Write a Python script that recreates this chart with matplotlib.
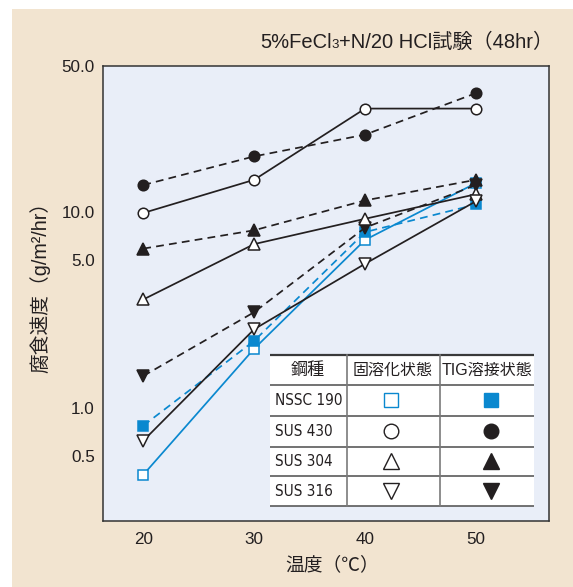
import numpy as np
import matplotlib
matplotlib.use("Agg")
import matplotlib.pyplot as plt
from matplotlib import font_manager as fm
from matplotlib.offsetbox import TextArea, HPacker, AnnotationBbox
from matplotlib.patches import Rectangle
from matplotlib.ticker import FixedLocator, FixedFormatter, NullLocator

# ---- data: corrosion rate (g/m2/hr) vs. temperature (deg C) ----
temps = [20, 30, 40, 50]

nssc190_sol = [0.38, 1.9, 6.7, 13.8]
nssc190_tig = [0.77, 2.07, 7.5, 10.9]
sus430_sol = [9.9, 14.3, 31.3, 31.3]
sus430_tig = [13.5, 18.5, 23.5, 37.1]
sus304_sol = [3.25, 6.3, 9.1, 12.2]
sus304_tig = [5.9, 7.7, 11.4, 14.3]
sus316_sol = [0.62, 2.35, 4.8, 11.3]
sus316_tig = [1.41, 2.83, 8.0, 13.5]

steel_grades = ["NSSC 190", "SUS 430", "SUS 304", "SUS 316"]
table_header = ["鋼種", "固溶化状態", "TIG溶接状態"]

x_ticks = [20, 30, 40, 50]
y_ticks = [0.5, 1.0, 5.0, 10.0, 50.0]
y_tick_labels = ["0.5", "1.0", "5.0", "10.0", "50.0"]

# printed height of each labelled gridline on the corrosion-rate axis
grid_height = [65.3, 113.5, 261.0, 308.7, 455.0]

# ---- styling ----
BLUE = "#0a88cf"
INK = "#231f20"
BEIGE = "#f2e4d0"
PANEL = "#e9eef8"

names = {f.name for f in fm.fontManager.ttflist}
LATIN = "Liberation Sans" if "Liberation Sans" in names else "DejaVu Sans"
FAM = [LATIN, "Noto Sans CJK JP", "DejaVu Sans"]
plt.rcParams["font.family"] = FAM


def find_condensed():
    """Return a FontProperties for an installed condensed sans face, or None."""
    prefer = ["Liberation Sans Narrow", "DejaVu Sans", "Roboto", "Noto Sans",
              "Open Sans", "Lato", "Inter"]
    found = []
    for f in fm.fontManager.ttflist:
        fname = f.fname.lower()
        narrow = ("narrow" in f.name.lower() or "condensed" in fname
                  or "narrow" in fname
                  or str(f.stretch) in ("condensed", "semi-condensed",
                                        "extra-condensed"))
        if not narrow or f.style != "normal":
            continue
        if "bold" in fname or "light" in fname or "mono" in fname \
                or "oblique" in fname or "italic" in fname or "serif" in fname:
            continue
        rank = next((i for i, p in enumerate(prefer) if f.name.startswith(p)), 99)
        found.append((rank, f.fname))
    if not found:
        return None
    found.sort()
    return fm.FontProperties(fname=found[0][1])


COND = find_condensed()

# ---- piecewise-logarithmic y scale following the printed grid ----
_lg = np.log10(y_ticks)
_h = np.asarray(grid_height, float)
_s_lo = (_h[1] - _h[0]) / (_lg[1] - _lg[0])
_s_hi = (_h[-1] - _h[-2]) / (_lg[-1] - _lg[-2])
_LX = np.concatenate([[_lg[0] - 40], _lg, [_lg[-1] + 40]])
_HX = np.concatenate([[_h[0] - 40 * _s_lo], _h, [_h[-1] + 40 * _s_hi]])


def rate_fwd(v):
    v = np.asarray(v, float)
    return np.interp(np.log10(np.clip(v, 1e-30, None)), _LX, _HX)


def rate_inv(h):
    return 10 ** np.interp(np.asarray(h, float), _HX, _LX)


W, H = 573, 587
fig = plt.figure(figsize=(W / 100, H / 100), dpi=100, facecolor="white")

# beige page panel
fig.patches.append(Rectangle((12 / W, 0), 1 - 12 / W, 1 - 9 / H,
                             transform=fig.transFigure, facecolor=BEIGE,
                             edgecolor="none", zorder=-10))

ax = fig.add_axes([103 / W, (H - 521) / H, 445.7 / W, 455 / H])
ax.set_facecolor(PANEL)
ax.set_yscale("function", functions=(rate_fwd, rate_inv))
ax.set_xlim(16.37, 56.55)
ax.set_ylim(float(rate_inv(0.0)), 50.0)

for sp in ax.spines.values():
    sp.set_color("#333333")
    sp.set_linewidth(1.1)

ax.xaxis.set_major_locator(FixedLocator(x_ticks))
ax.yaxis.set_major_locator(FixedLocator(y_ticks))
ax.yaxis.set_major_formatter(FixedFormatter(y_tick_labels))
ax.yaxis.set_minor_locator(NullLocator())
ax.xaxis.set_minor_locator(NullLocator())
ax.tick_params(axis="both", length=0, labelsize=12.3, labelcolor=INK)
ax.tick_params(axis="x", pad=8)
ax.tick_params(axis="y", pad=6)
for lab in ax.get_xticklabels() + ax.get_yticklabels():
    lab.set_family(FAM)

DASH = (0, (4.5, 3))
LW = 1.25

grade_marker = {"NSSC 190": "s", "SUS 430": "o", "SUS 304": "^", "SUS 316": "v"}
grade_color = {"NSSC 190": BLUE, "SUS 430": INK, "SUS 304": INK, "SUS 316": INK}
grade_ms = {"s": 7.5, "o": 7.6, "^": 8.6, "v": 8.6}


def style(grade, welded):
    c = grade_color[grade]
    m = grade_marker[grade]
    return dict(color=c, marker=m, markersize=grade_ms[m],
                markerfacecolor=c if welded else "white",
                markeredgecolor=c, markeredgewidth=1.1,
                linestyle=DASH if welded else "-", linewidth=LW)


series = [
    ("NSSC 190", False, nssc190_sol),
    ("NSSC 190", True, nssc190_tig),
    ("SUS 430", False, sus430_sol),
    ("SUS 430", True, sus430_tig),
    ("SUS 316", True, sus316_tig),
    ("SUS 304", True, sus304_tig),
    ("SUS 304", False, sus304_sol),
    ("SUS 316", False, sus316_sol),
]
for grade, welded, vals in series:
    ax.plot(temps, vals, **style(grade, welded), zorder=3)

# ---- title with subscript ----
tp = dict(fontsize=14.5, family=FAM, color=INK)
title = HPacker(children=[TextArea("5%FeCl", textprops=tp),
                          TextArea("3", textprops=dict(tp, fontsize=9.5)),
                          TextArea("+N/20 HCl試験（48hr）", textprops=tp)],
                align="baseline", pad=0, sep=0)
ab = AnnotationBbox(title, (553 / W, 1 - 42 / H), xycoords="figure fraction",
                    box_alignment=(1.0, 0.5), frameon=False, pad=0,
                    annotation_clip=False)
ax.add_artist(ab)

# ---- axis labels ----
fig.text(40 / W, 1 - 282 / H, "腐食速度（g/m²/hr）", rotation=90,
         ha="center", va="center", fontsize=14.2, color=INK, family=FAM)
fig.text(332 / W, 1 - 565 / H, "温度（℃）", ha="center", va="center",
         fontsize=13.5, color=INK, family=FAM)

# ---- symbol table ----
TW, TH = 264.0, 151.0
tax = fig.add_axes([270 / W, (H - 506) / H, TW / W, TH / H])
tax.set_xlim(0, TW)
tax.set_ylim(TH, 0)
tax.set_facecolor("white")
for sp in tax.spines.values():
    sp.set_visible(False)
tax.set_xticks([])
tax.set_yticks([])

row_edges = [0, 30, 60.7, 91.7, 121, 151]
col_edges = [0, 76.7, 170, TW]
for i, yy in enumerate(row_edges):
    tax.plot([0, TW], [yy, yy], color="#3a3a3a" if i == 0 else "#5a5a5a",
             lw=1.6 if i == 0 else 1.2, solid_capstyle="butt", clip_on=False)
for xx in col_edges[1:-1]:
    tax.plot([xx, xx], [0, TH], color="#7a7a7a", lw=1.2, clip_on=False)

hdr_x = [38, 123, 217]
hdr_size = [12.3, 11.5, 11.5]
for x, txt, fs in zip(hdr_x, table_header, hdr_size):
    tax.text(x, 15, txt, ha="center", va="center", fontsize=fs,
             color=INK, family=FAM)

sym_x = [121, 221]
tbl_ms = {"s": 10, "o": 10.5, "^": 11, "v": 11}
for r, grade in enumerate(steel_grades):
    yc = (row_edges[r + 1] + row_edges[r + 2]) / 2
    if COND is not None:
        fp = COND.copy()
        fp.set_size(11)
        tax.text(5, yc, grade, ha="left", va="center", color=INK,
                 fontproperties=fp)
    else:
        tax.text(5, yc, grade, ha="left", va="center", fontsize=10.5,
                 color=INK, family=FAM)
    for welded, x in zip([False, True], sym_x):
        st = style(grade, welded)
        m = st["marker"]
        edge = BLUE if grade == "NSSC 190" else INK
        tax.plot([x], [yc], linestyle="none", marker=m, markersize=tbl_ms[m],
                 markerfacecolor=st["markerfacecolor"], markeredgecolor=edge,
                 markeredgewidth=1.0)

fig.savefig("out.png", dpi=100, facecolor="white")
